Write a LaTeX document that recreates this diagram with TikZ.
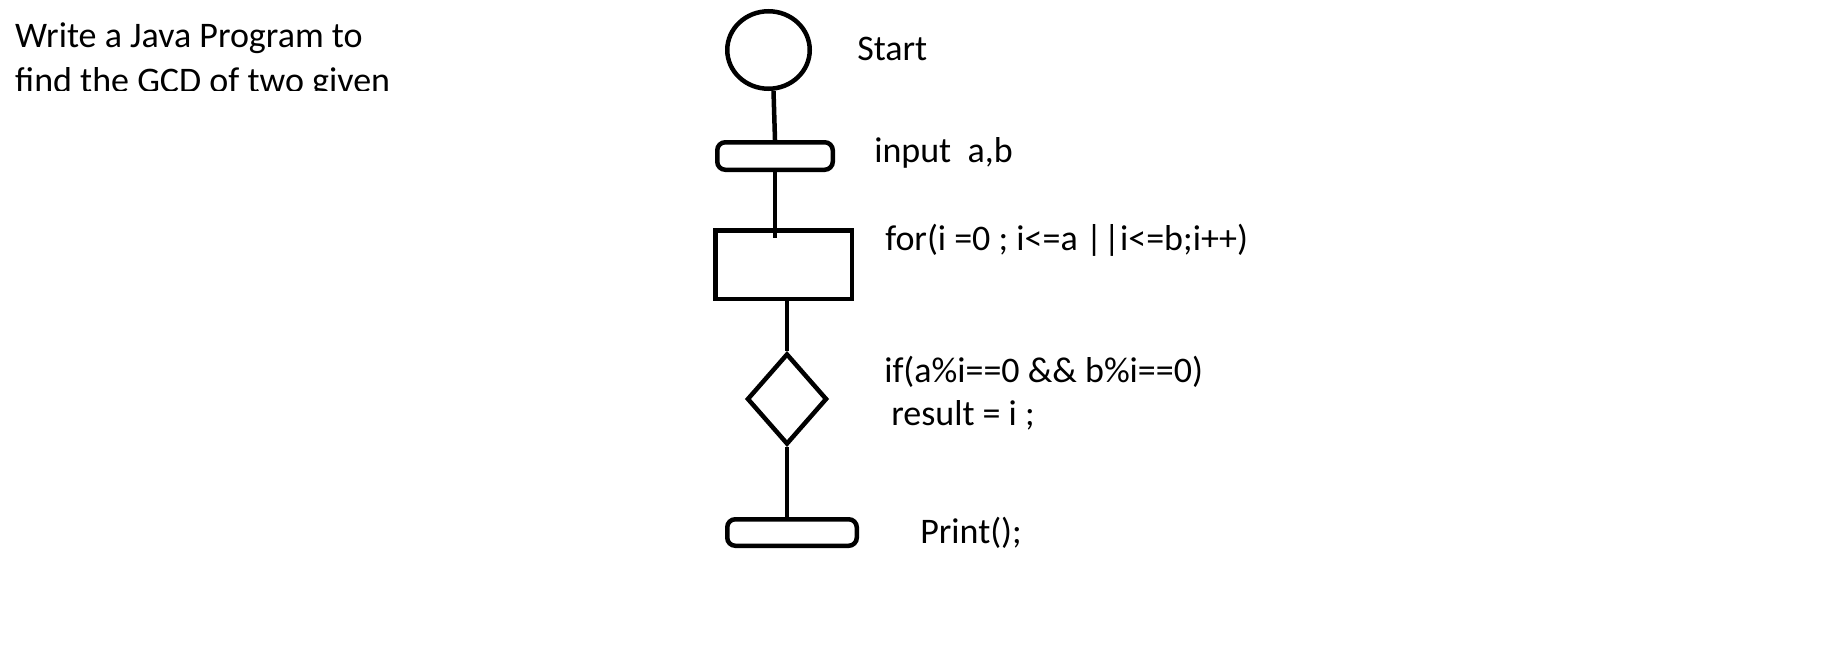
\documentclass[tikz,border=0pt]{standalone}
\usepackage{fontspec}
\setmainfont{Carlito}
\usetikzlibrary{shapes.geometric,positioning}

\begin{document}
\begin{tikzpicture}[x=1pt,y=1pt,
  line width=4.5pt,
  txt/.style={anchor=base west, inner sep=0pt, font=\fontsize{36}{45}\selectfont},
  term/.style={draw, rounded corners=8pt, inner sep=0pt},
]
\useasboundingbox (0,0) rectangle (1825,-664);
% title, cut off at the bottom
\begin{scope}
  \clip (0,0) rectangle (440,-90);
  \node[txt] (title1) at (13,-47) {Write a Java Program to};
  \node[txt] (title2) at (13,-92) {find the GCD of two given};
\end{scope}
% shapes
\node[draw, ellipse, minimum width=82.5pt, minimum height=77.5pt, inner sep=0pt] (start) at (768.5,-50) {};
\node[term, minimum width=115.5pt, minimum height=27.5pt] (input) at (775,-156) {};
\node[draw, minimum width=136.5pt, minimum height=68.5pt, inner sep=0pt] (loop) at (783.5,-264.5) {};
\node[draw, diamond, minimum width=80pt, minimum height=91pt, inner sep=0pt] (test) at (787,-399) {};
\node[term, minimum width=129.5pt, minimum height=26.5pt] (print) at (792,-532.5) {};
% connectors
\draw (start.south) ++(5pt,0) -- (input.north);
\draw (input.south) -- ([yshift=-10pt]input.south |- loop.north);
\draw (test.north |- loop.south) -- (test.north);
\draw (test.south) -- (test.south |- print.north);
% labels
\node[txt] (lstart) at (855,-60) {Start};
\node[txt] (linput) at (872,-162) {input\ \ a,b};
\node[txt] (lloop) at (883,-250) {for(i =0 ; i<=a | \kern-7pt|i<=b;i++)};
\node[txt] (ltest) at (882,-382) {if(a\%i==0 \&\& b\%i==0)};
\node[txt] (lres) at (889,-425) {result = i ;};
\node[txt] (lprint) at (918,-543) {Print();};
\end{tikzpicture}
\end{document}
